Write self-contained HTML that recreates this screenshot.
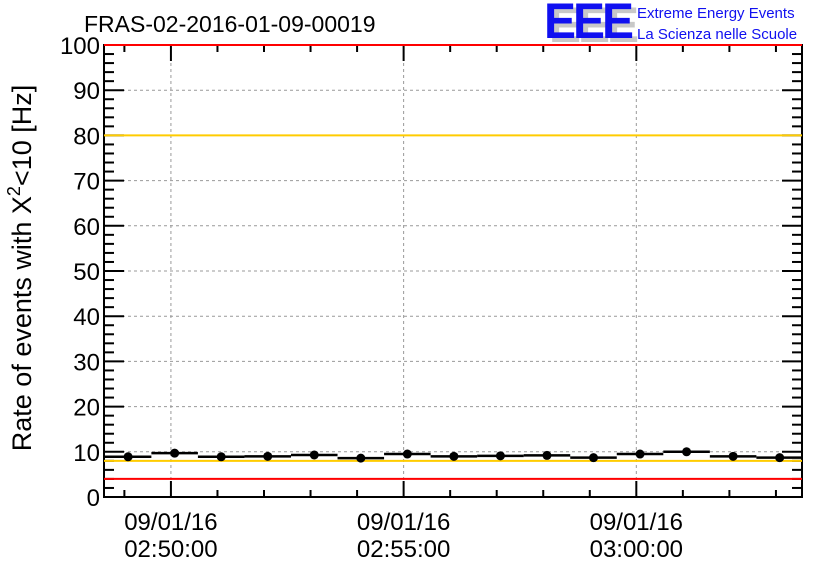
<!DOCTYPE html>
<html><head><meta charset="utf-8"><style>
body{margin:0;background:#fff}
svg{display:block;font-family:"Liberation Sans",sans-serif}
</style></head><body>
<svg id="c" width="836" height="572" viewBox="0 0 836 572">
<rect width="836" height="572" fill="#fff"/>
<text x="84" y="32" font-size="23" fill="#000">FRAS-02-2016-01-09-00019</text>
<g>
<text x="549" y="42" font-size="48" font-weight="bold" fill="#c8c8c8" letter-spacing="-3" transform="translate(549,42) scale(1,1.05) translate(-549,-42)">EEE</text>
<text x="544" y="38" font-size="48" font-weight="bold" fill="#1010f0" letter-spacing="-3" transform="translate(544,38) scale(1,1.05) translate(-544,-38)">EEE</text>
<text x="637" y="18" font-size="15" fill="#1010f0">Extreme Energy Events</text>
<text x="637" y="39" font-size="15" fill="#1010f0">La Scienza nelle Scuole</text>
</g>
<text transform="translate(31,268) rotate(-90)" text-anchor="middle" font-size="27" fill="#000">Rate of events with X<tspan dy="-11" font-size="18">2</tspan><tspan dy="11">&lt;10 [Hz]</tspan></text>
<g id="grid"></g><g id="axes"></g><g id="marks"></g>
</svg>
<script>
// data: minutes relative to 02:50:00
const pointTimes = [-0.92,0.08,1.08,2.08,3.08,4.08,5.08,6.08,7.08,8.08,9.08,10.08,11.08,12.08,13.08];
const rates = [8.9,9.7,8.9,9.0,9.3,8.6,9.5,9.0,9.1,9.2,8.7,9.5,10.0,9.0,8.7];
const yTickLabels = [0,10,20,30,40,50,60,70,80,90,100];
const xTickLabels = [["09/01/16","02:50:00",0],["09/01/16","02:55:00",5],["09/01/16","03:00:00",10]];
const redLimits = [4.0,100];
const yellowLimits = [8.0,80];

const L=104,R=802,T=45,B=497,tMin=-1.438,tMax=13.56,yMin=0,yMax=100;
const X=t=>L+(t-tMin)/(tMax-tMin)*(R-L);
const Y=v=>B-(v-yMin)/(yMax-yMin)*(B-T);
const NS="http://www.w3.org/2000/svg";
function mk(tag,attrs,parent){const e=document.createElementNS(NS,tag);for(const k in attrs)e.setAttribute(k,attrs[k]);parent.appendChild(e);return e;}
const grid=document.getElementById('grid'),axes=document.getElementById('axes'),marks=document.getElementById('marks');
yTickLabels.forEach(v=>{if(v>0&&v<100){const g=mk('line',{x1:L,x2:R,y1:Y(v),y2:Y(v),stroke:'#999','stroke-dasharray':'3,3','stroke-width':1},grid);

}});
xTickLabels.forEach(d=>{const g=mk('line',{x1:X(d[2]),x2:X(d[2]),y1:T,y2:B,stroke:'#999','stroke-dasharray':'3,3','stroke-width':1},grid);

});
const fr=mk('rect',{x:L,y:T,width:R-L,height:B-T,fill:'none',stroke:'#000','stroke-width':2},axes);


for(let v=0;v<=100;v+=2){const maj=v%10===0;const len=maj?20:10;
mk('line',{x1:L,x2:L+len,y1:Y(v),y2:Y(v),stroke:'#000','stroke-width':2},axes);
mk('line',{x1:R,x2:R-len,y1:Y(v),y2:Y(v),stroke:'#000','stroke-width':2},axes);}
yTickLabels.forEach(v=>{const t=mk('text',{x:L-4,y:Y(v)+9,'text-anchor':'end','font-size':24},axes);t.textContent=v;

});
for(let m=Math.ceil(tMin);m<=tMax;m++){const maj=m%5===0;const len=maj?16:7;
mk('line',{x1:X(m),x2:X(m),y1:B,y2:B-len,stroke:'#000','stroke-width':2},axes);
mk('line',{x1:X(m),x2:X(m),y1:T,y2:T+len,stroke:'#000','stroke-width':2},axes);}
xTickLabels.forEach(d=>{const t=mk('text',{x:X(d[2]),y:530,'text-anchor':'middle','font-size':24},axes);


mk('tspan',{x:X(d[2]),dy:0},t).textContent=d[0];mk('tspan',{x:X(d[2]),dy:27},t).textContent=d[1];});
redLimits.forEach(v=>{const l=mk('line',{x1:L,x2:R,y1:Y(v),y2:Y(v),stroke:'#f00','stroke-width':2},marks);

});
yellowLimits.forEach(v=>{const l=mk('line',{x1:L,x2:R,y1:Y(v),y2:Y(v),stroke:'#ffcc00','stroke-width':2},marks);

});
pointTimes.forEach((t,i)=>{const y=Y(rates[i]);
const e=mk('line',{x1:X(t-0.5),x2:X(t+0.5),y1:y,y2:y,stroke:'#000','stroke-width':2.5},marks);


const c=mk('circle',{cx:X(t),cy:y,r:4.5,fill:'#000'},marks);

});
</script>
</body></html>
